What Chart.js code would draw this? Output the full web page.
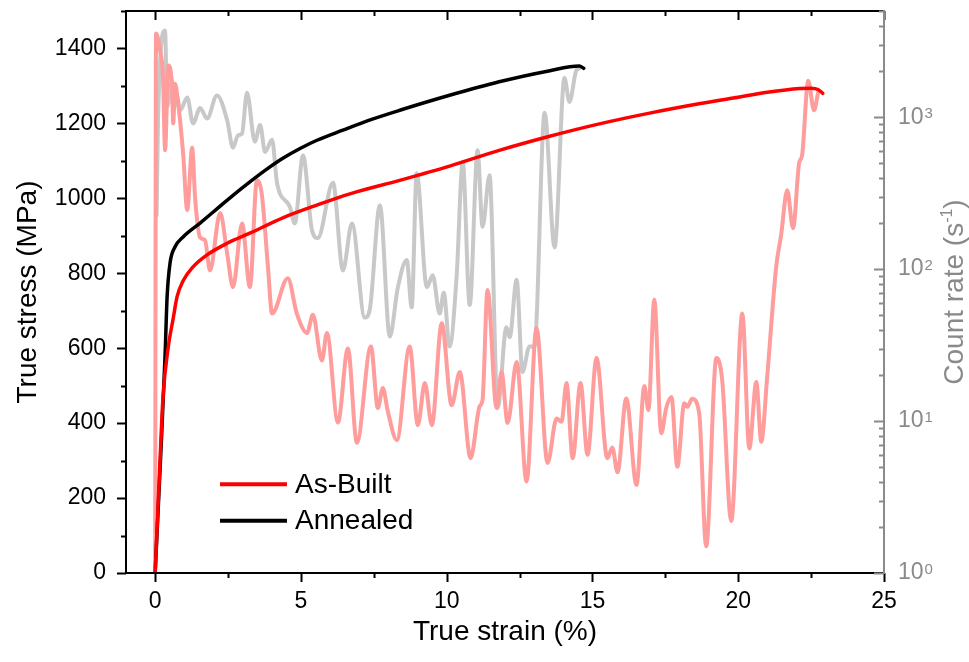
<!DOCTYPE html>
<html>
<head>
<meta charset="utf-8">
<script src="https://cdn.jsdelivr.net/npm/chart.js@4.4.1/dist/chart.umd.min.js"></script>
<style>
  body { margin: 0; background: #fff; }
  canvas { display: block; }
</style>
</head>
<body>
<canvas id="chart" width="969" height="662"></canvas>
<script>
// tick labels
const strainTicks = [0, 5, 10, 15, 20, 25];
const stressTicks = [0, 200, 400, 600, 800, 1000, 1200, 1400];
const rateTicks = [1, 10, 100, 1000];

// stress-strain curves
const asBuiltStrain = [0, 0.15, 0.27, 0.45, 0.62, 0.75, 0.96, 1.3, 1.78, 2.47, 3.25, 4.38, 5.55, 6.68, 8.39, 10.1, 11.8, 13.5, 15.2, 17.0, 18.7, 20.0, 21.0, 22.1, 22.5, 22.75, 22.9];
const asBuiltStress = [0, 270, 470, 604, 680, 737, 780, 817, 849, 880, 907, 948, 982, 1012, 1048, 1086, 1128, 1165, 1198, 1228, 1253, 1270, 1283, 1293, 1294, 1290, 1280];

const annealedStrain = [0, 0.2, 0.34, 0.41, 0.51, 0.68, 0.96, 1.54, 2.12, 2.67, 3.25, 3.83, 4.38, 4.97, 5.55, 6.44, 7.4, 8.39, 10.1, 11.8, 13.5, 14.55, 14.7];
const annealedStress = [0, 330, 580, 737, 827, 870, 897, 934, 972, 1008, 1044, 1078, 1107, 1133, 1155, 1182, 1210, 1235, 1275, 1311, 1340, 1353, 1347];

// acoustic emission count rate (s^-1)
const asBuiltAeStrain = [0.0, 0.03, 0.17, 0.27, 0.34, 0.45, 0.58, 0.62, 0.68, 0.79, 0.96, 1.10, 1.27, 1.37, 1.54, 1.71, 1.88, 2.23, 2.47, 2.67, 2.98, 3.25, 3.49, 3.66, 3.87, 4.01, 4.55, 4.86, 5.21, 5.41, 5.72, 5.89, 6.27, 6.61, 6.92, 7.40, 7.64, 7.81, 7.98, 8.29, 8.73, 9.01, 9.25, 9.49, 9.83, 10.17, 10.45, 10.82, 11.13, 11.23, 11.40, 11.71, 11.88, 12.09, 12.40, 12.74, 13.08, 13.46, 13.77, 13.94, 14.11, 14.32, 14.59, 14.83, 15.14, 15.51, 15.68, 15.86, 16.16, 16.51, 16.78, 16.92, 17.12, 17.36, 17.53, 17.71, 17.91, 18.15, 18.25, 18.42, 18.66, 18.90, 19.25, 19.45, 19.76, 20.14, 20.38, 20.62, 20.79, 20.99, 21.30, 21.47, 21.68, 21.88, 22.09, 22.19, 22.40, 22.60, 22.74];
const asBuiltAeRate = [1.1, 3550, 2750, 1820, 605, 2190, 1580, 910, 1660, 1230, 575, 245, 630, 295, 162, 155, 98, 234, 127, 76, 200, 76, 385, 309, 103, 51, 87, 51, 38, 50, 25, 38, 9.8, 30, 7.2, 31, 12.2, 16.5, 11.6, 7.5, 31, 9.4, 17.8, 9.4, 44, 12.7, 21, 5.7, 12.5, 13.8, 73, 12.2, 21, 9.7, 24.5, 4.0, 41, 5.3, 10.4, 9.9, 17.8, 5.7, 17.8, 6.0, 26, 5.7, 6.7, 4.6, 14.1, 3.8, 17, 11.8, 63, 8.3, 12.2, 14.4, 5.0, 13.1, 12.4, 14.0, 11.3, 1.5, 26, 18.6, 2.2, 51, 6.6, 18.1, 7.3, 19.2, 103, 167, 330, 186, 500, 560, 1740, 1110, 1450];

const annealedAeStrain = [0.05, 0.10, 0.34, 0.41, 0.58, 0.62, 0.75, 0.86, 1.10, 1.30, 1.54, 1.78, 2.12, 2.47, 2.67, 2.84, 2.98, 3.15, 3.42, 3.60, 3.77, 4.01, 4.18, 4.62, 4.79, 5.07, 5.38, 5.58, 6.10, 6.44, 6.75, 7.19, 7.36, 7.71, 8.05, 8.32, 8.63, 8.80, 8.97, 9.32, 9.52, 9.76, 9.90, 10.10, 10.34, 10.55, 10.79, 11.06, 11.23, 11.47, 11.75, 12.05, 12.16, 12.40, 12.60, 12.84, 13.01, 13.36, 13.70, 14.04, 14.21, 14.45, 14.55];
const annealedAeRate = [226, 1000, 3720, 1170, 1740, 1110, 1350, 1110, 1350, 910, 1150, 980, 1390, 955, 630, 760, 780, 1450, 690, 890, 590, 710, 370, 257, 200, 560, 180, 160, 370, 98, 200, 48, 54, 263, 36, 75, 115, 56, 427, 76, 91, 51, 70, 31, 89, 505, 58, 605, 190, 415, 12.2, 41.5, 35.6, 85, 21, 31, 31, 1070, 139, 1810, 1260, 2040, 2090];

const FONT = "'Liberation Sans', Arial, sans-serif";
const GRAY = '#8a8a8a';

function toXY(xs, ys) {
  return xs.map((x, i) => ({ x: x, y: ys[i] }));
}

// frame, minor ticks, log-axis labels, right title and legend
const decorPlugin = {
  id: 'decor',
  afterDraw(chart) {
    const { ctx, chartArea: a, scales } = chart;
    const x = scales.x, y = scales.y, y2 = scales.y2;
    const seg = (x0, y0, x1, y1) => { ctx.moveTo(x0, y0); ctx.lineTo(x1, y1); };
    ctx.save();

    // black frame: left, top, bottom
    ctx.strokeStyle = '#000';
    ctx.lineWidth = 2;
    ctx.beginPath();
    seg(a.left, a.bottom, a.left, a.top);
    seg(a.left - 1, a.top, a.right, a.top);
    seg(a.left - 1, a.bottom, a.right, a.bottom);
    // x ticks: out at bottom, in at top
    for (let v = 0; v <= 25; v += 2.5) {
      const px = Math.round(x.getPixelForValue(v)) + 0.5;
      const len = v % 5 === 0 ? 9 : 5;
      seg(px, a.bottom, px, a.bottom + len);
      seg(px, a.top, px, a.top + len);
    }
    // left ticks, outward
    for (let v = 0; v <= 1500; v += 100) {
      const py = Math.round(y.getPixelForValue(v)) + 0.5;
      const len = v % 200 === 0 ? 9 : 5;
      seg(a.left, py, a.left - len, py);
    }
    ctx.stroke();

    // right log axis (grey)
    ctx.strokeStyle = GRAY;
    ctx.beginPath();
    seg(a.right, a.bottom + 1, a.right, a.top - 1);
    for (let d = 1; d <= 1000; d *= 10) {
      for (let m = 1; m <= 9; m++) {
        const v = m * d;
        if (v > y2.max) break;
        const py = Math.round(y2.getPixelForValue(v)) + 0.5;
        const len = m === 1 ? 10 : 5;
        seg(a.right, py, a.right - len, py);
      }
    }
    ctx.stroke();

    // right labels 10^n
    ctx.fillStyle = GRAY;
    rateTicks.forEach(v => {
      const py = y2.getPixelForValue(v);
      const exp = String(Math.round(Math.log10(v)));
      ctx.font = '23px ' + FONT;
      ctx.textAlign = 'left';
      ctx.textBaseline = 'middle';
      ctx.fillText('10', a.right + 14, py);
      const w = ctx.measureText('10').width;
      ctx.font = '15px ' + FONT;
      ctx.textBaseline = 'top';
      ctx.fillText(exp, a.right + 15 + w, py - 11);
    });

    // right title: Count rate (s^-1)
    ctx.save();
    ctx.translate(963, (a.top + a.bottom) / 2);
    ctx.rotate(-Math.PI / 2);
    ctx.textBaseline = 'alphabetic';
    ctx.textAlign = 'left';
    ctx.font = '28px ' + FONT;
    const t1 = 'Count rate (s', t3 = ')';
    const w1 = ctx.measureText(t1).width, w3 = ctx.measureText(t3).width;
    ctx.font = '16px ' + FONT;
    const w2 = ctx.measureText('-1').width;
    const cx = -(w1 + w2 + w3) / 2;
    ctx.font = '28px ' + FONT;
    ctx.fillText(t1, cx, 0);
    ctx.font = '16px ' + FONT;
    ctx.fillText('-1', cx + w1, -11);
    ctx.font = '28px ' + FONT;
    ctx.fillText(t3, cx + w1 + w2, 0);
    ctx.restore();

    // legend inside plot
    const items = [
      { text: 'As-Built', color: '#ff0000', fy: 0.842 },
      { text: 'Annealed', color: '#000000', fy: 0.907 }
    ];
    items.forEach(it => {
      const ly = a.top + it.fy * (a.bottom - a.top);
      const lx0 = a.left + 0.124 * (a.right - a.left);
      ctx.strokeStyle = it.color;
      ctx.lineWidth = 4;
      ctx.beginPath();
      seg(lx0, ly, lx0 + 67, ly);
      ctx.stroke();
      ctx.fillStyle = '#000';
      ctx.font = '28px ' + FONT;
      ctx.textAlign = 'left';
      ctx.textBaseline = 'middle';
      ctx.fillText(it.text, lx0 + 75, ly + 1);
    });

    ctx.restore();
  }
};

new Chart(document.getElementById('chart'), {
  type: 'line',
  data: {
    datasets: [
      { label: 'As-Built', data: toXY(asBuiltStrain, asBuiltStress), borderColor: '#ff0000', borderWidth: 3.5, yAxisID: 'y', order: 0 },
      { label: 'Annealed', data: toXY(annealedStrain, annealedStress), borderColor: '#000000', borderWidth: 3.5, yAxisID: 'y', order: 0 },
      { label: 'As-Built AE', data: toXY(asBuiltAeStrain, asBuiltAeRate), borderColor: '#ff9c9c', borderWidth: 4, yAxisID: 'y2', order: 1 },
      { label: 'Annealed AE', data: toXY(annealedAeStrain, annealedAeRate), borderColor: '#c8c8c8', borderWidth: 4, yAxisID: 'y2', order: 2 }
    ]
  },
  options: {
    responsive: false,
    animation: false,
    elements: {
      point: { radius: 0 },
      line: { cubicInterpolationMode: 'monotone', fill: false, borderCapStyle: 'round', borderJoinStyle: 'round' }
    },
    layout: { padding: { top: 11, left: 0, right: 0, bottom: 0 } },
    plugins: {
      legend: { display: false },
      tooltip: { enabled: false }
    },
    scales: {
      x: {
        type: 'linear',
        min: -1,
        max: 25,
        afterBuildTicks: s => { s.ticks = strainTicks.map(v => ({ value: v })); },
        afterFit: s => { s.height = 89; s.paddingLeft = 0; s.paddingRight = 0; },
        grid: { display: false, drawTicks: false },
        border: { display: false },
        ticks: { color: '#000', font: { family: FONT, size: 23 }, padding: 15, maxRotation: 0, autoSkip: false, callback: v => String(v) },
        title: { display: true, text: 'True strain (%)', color: '#000', font: { family: FONT, size: 28 }, padding: { top: 0, bottom: 13 } }
      },
      y: {
        type: 'linear',
        position: 'left',
        min: 0,
        max: 1500,
        afterBuildTicks: s => { s.ticks = stressTicks.map(v => ({ value: v })); },
        afterFit: s => { s.width = 126; s.paddingTop = 0; s.paddingBottom = 0; },
        grid: { display: false, drawTicks: false },
        border: { display: false },
        ticks: { color: '#000', font: { family: FONT, size: 23 }, padding: 20, callback: v => String(v) },
        title: { display: true, text: 'True stress (MPa)', color: '#000', font: { family: FONT, size: 28 }, padding: { top: 11, bottom: 0 } }
      },
      y2: {
        type: 'logarithmic',
        position: 'right',
        min: 1,
        max: 5000,
        afterFit: s => { s.width = 85; s.paddingTop = 0; s.paddingBottom = 0; },
        grid: { display: false, drawTicks: false },
        border: { display: false },
        ticks: { display: false }
      }
    }
  },
  plugins: [decorPlugin]
});
</script>
</body>
</html>
